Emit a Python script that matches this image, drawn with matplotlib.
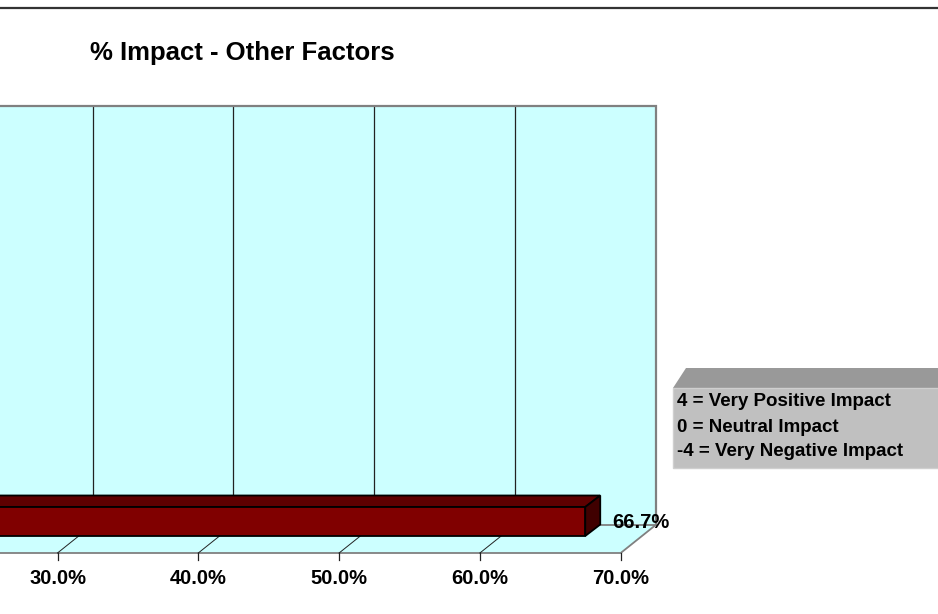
import matplotlib
matplotlib.use('Agg')
from matplotlib import pyplot as plt
from matplotlib.patches import Polygon

# data
categories = ['Other Factors']
values = [66.7]
ticks = [30, 40, 50, 60, 70]
tick_labels = ['%.1f%%' % t for t in ticks]
title = '% Impact - Other Factors'
legend_lines = ['4 = Very Positive Impact', '0 = Neutral Impact', '-4 = Very Negative Impact']

plt.rcParams['font.family'] = ['Liberation Sans', 'DejaVu Sans']
plt.rcParams['font.weight'] = 'bold'

W, H = 938, 614
fig = plt.figure(figsize=(W / 100, H / 100), dpi=100)

# main chart axes: x in percent, y in pixels from top
ax = fig.add_axes([0, 0, 1, 1])
px0, S = 57.5, 14.08          # pixel of 30% and pixels per percent
xmin = 30 - px0 / S
ax.set_xlim(xmin, xmin + W / S)
ax.set_ylim(H, 0)
ax.axis('off')

def dx(px):
    return px / S

floor_front, floor_back, wall_top = 553, 525, 106
depth_x = dx(35)
xmax = ticks[-1]
cyan = '#CCFFFF'
gray = '#808080'

# back wall
ax.add_patch(Polygon([(0 + depth_x, floor_back), (xmax + depth_x, floor_back),
                      (xmax + depth_x, wall_top), (0 + depth_x, wall_top)],
                     closed=True, facecolor=cyan, edgecolor='none', zorder=1))
ax.plot([0 + depth_x, xmax + depth_x, xmax + depth_x], [wall_top, wall_top, floor_back],
        color=gray, lw=1.6, zorder=3, solid_joinstyle='miter')

# floor
ax.add_patch(Polygon([(0, floor_front), (xmax, floor_front),
                      (xmax + depth_x, floor_back), (0 + depth_x, floor_back)],
                     closed=True, facecolor=cyan, edgecolor='none', zorder=1))
ax.plot([0, xmax, xmax + depth_x, 0 + depth_x], [floor_front, floor_front, floor_back, floor_back],
        color=gray, lw=1.3, zorder=2)

# gridlines, ticks, labels
for t, lab in zip(ticks, tick_labels):
    if t < xmax:
        ax.plot([t + depth_x, t + depth_x], [wall_top, floor_back], color='#222222', lw=0.9, zorder=2)
        ax.plot([t, t + depth_x], [floor_front, floor_back], color='#222222', lw=0.7, zorder=2)
    ax.plot([t, t], [floor_front, floor_front + 7], color='#222222', lw=0.9, zorder=2)
    ax.text(t, 579, lab, ha='center', va='center', fontsize=14.5, fontweight='bold', zorder=5)

# 3D bar
f_off, b_off = dx(11), dx(26)
top_f, bot_f, top_b, bot_b = 507, 536, 495.5, 524.5
for v in values:
    front = [(0 + f_off, top_f), (v + f_off, top_f), (v + f_off, bot_f), (0 + f_off, bot_f)]
    top = [(0 + f_off, top_f), (v + f_off, top_f), (v + b_off, top_b), (0 + b_off, top_b)]
    side = [(v + f_off, top_f), (v + b_off, top_b), (v + b_off, bot_b), (v + f_off, bot_f)]
    ax.add_patch(Polygon(top, closed=True, facecolor='#5E0000', edgecolor='black', lw=1.3, zorder=4))
    ax.add_patch(Polygon(side, closed=True, facecolor='#400000', edgecolor='black', lw=1.3, zorder=4))
    ax.add_patch(Polygon(front, closed=True, facecolor='#800000', edgecolor='black', lw=1.3, zorder=4))
    ax.text(v + b_off + dx(12), 522.5, '%.1f%%' % v, ha='left', va='center',
            fontsize=14.5, fontweight='bold', zorder=5)

# overlay axes in pixels for title, frame line and legend box
ov = fig.add_axes([0, 0, 1, 1], facecolor='none')
ov.set_xlim(0, W)
ov.set_ylim(H, 0)
ov.axis('off')

ov.plot([0, W], [8, 8], color='#333333', lw=1.6)
ov.text(242, 53, title, ha='center', va='center', fontsize=18.5, fontweight='bold')

ov.add_patch(Polygon([(673, 388), (686, 368), (W + 5, 368), (W + 5, 388)],
                     closed=True, facecolor='#999999', edgecolor='none'))
ov.add_patch(Polygon([(673, 388), (W + 5, 388), (W + 5, 468), (673, 468)],
                     closed=True, facecolor='#C0C0C0', edgecolor='#CFCFCF', lw=1))
for i, line in enumerate(legend_lines):
    ov.text(677, 402 + 25 * i, line, ha='left', va='center', fontsize=13.5, fontweight='bold')

fig.savefig('out.png', dpi=100)
